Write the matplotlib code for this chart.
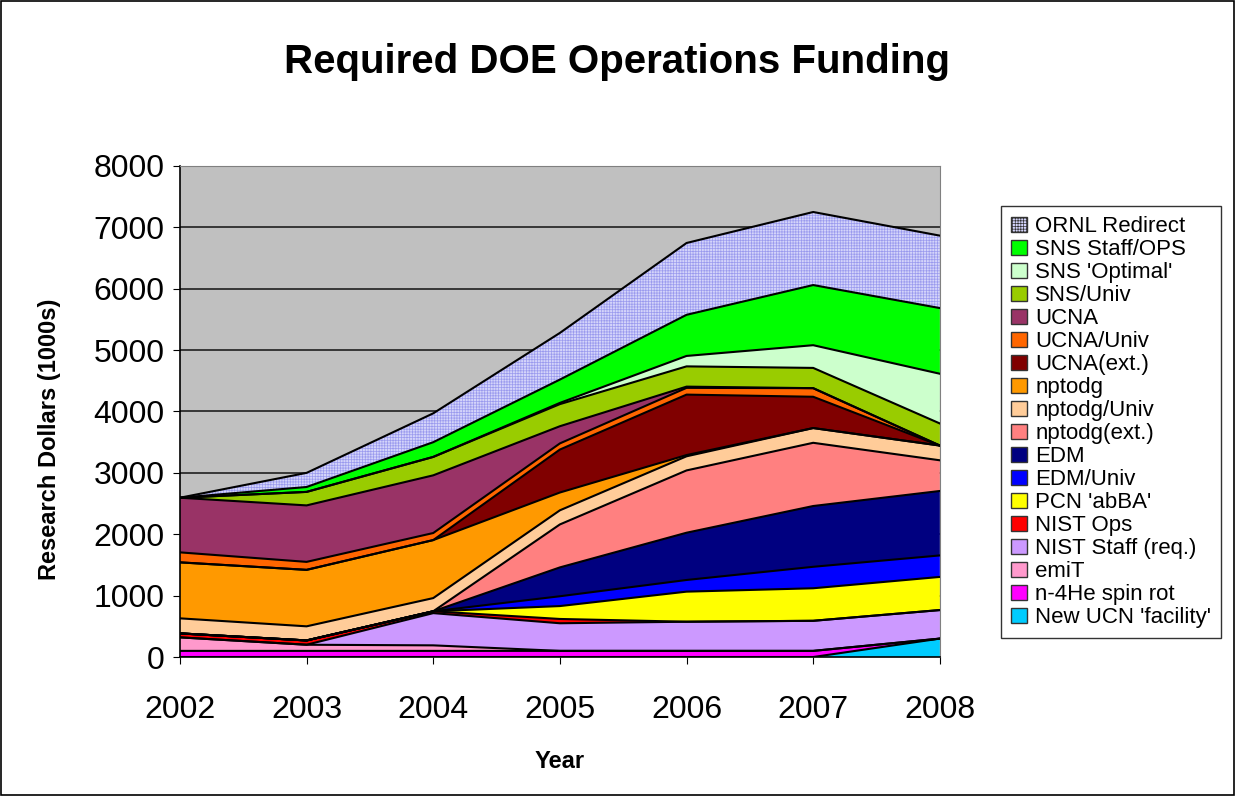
import numpy as np
import matplotlib.pyplot as plt
from matplotlib.patches import Patch, Rectangle

plt.rcParams['font.family'] = ['Liberation Sans', 'DejaVu Sans']
plt.rcParams['hatch.linewidth'] = 0.5

years = [2002, 2003, 2004, 2005, 2006, 2007, 2008]

# stack order, bottom to top
new_ucn = [0, 0, 0, 0, 0, 0, 300]
n4he = [100, 100, 100, 100, 100, 100, 0]
emit = [220, 100, 90, 0, 0, 0, 0]
nist_staff = [0, 0, 525, 450, 475, 490, 465]
nist_ops = [65, 70, 30, 70, 0, 0, 0]
pcn = [0, 0, 0, 210, 490, 530, 540]
edm_univ = [0, 0, 0, 160, 190, 350, 350]
edm = [0, 0, 0, 470, 770, 990, 1050]
nptodg_ext = [0, 0, 0, 700, 1015, 1030, 500]
nptodg_univ = [245, 230, 215, 230, 230, 240, 240]
nptodg = [912, 920, 945, 290, 20, 0, 0]
ucna_ext = [0, 0, 0, 700, 985, 510, 0]
ucna_univ = [163, 130, 115, 100, 110, 140, 0]
ucna = [890, 920, 940, 280, 20, 0, 0]
sns_univ = [0, 220, 300, 360, 330, 330, 360]
sns_opt = [0, 0, 0, 20, 170, 370, 810]
sns_staff = [0, 80, 240, 380, 670, 980, 1070]
ornl = [0, 230, 470, 760, 1170, 1190, 1180]

series = [
    ("New UCN 'facility'", new_ucn, '#00CCFF'),
    ("n-4He spin rot", n4he, '#FF00FF'),
    ("emiT", emit, '#FF99CC'),
    ("NIST Staff (req.)", nist_staff, '#CC99FF'),
    ("NIST Ops", nist_ops, '#FF0000'),
    ("PCN 'abBA'", pcn, '#FFFF00'),
    ("EDM/Univ", edm_univ, '#0000FF'),
    ("EDM", edm, '#000080'),
    ("nptodg(ext.)", nptodg_ext, '#FF8080'),
    ("nptodg/Univ", nptodg_univ, '#FFCC99'),
    ("nptodg", nptodg, '#FF9900'),
    ("UCNA(ext.)", ucna_ext, '#800000'),
    ("UCNA/Univ", ucna_univ, '#FF6600'),
    ("UCNA", ucna, '#993366'),
    ("SNS/Univ", sns_univ, '#99CC00'),
    ("SNS 'Optimal'", sns_opt, '#CCFFCC'),
    ("SNS Staff/OPS", sns_staff, '#00FF00'),
    ("ORNL Redirect", ornl, '#D4D4FA'),
]

fig = plt.figure(figsize=(12.35, 7.96), dpi=100)
ax = fig.add_axes([0.1457, 0.1746, 0.6153, 0.6169])
ax.set_facecolor('#C0C0C0')

x = np.array(years)
base = np.zeros(len(years))
for name, vals, col in series:
    top = base + np.array(vals)
    ax.fill_between(x, base, top, facecolor=col, edgecolor='none', zorder=2)
    if name == "ORNL Redirect":
        ax.fill_between(x, base, top, facecolor='none', edgecolor='#9A9AEE',
                        hatch='++++++', linewidth=0, zorder=2)
    ax.plot(x, top, color='black', linewidth=1.5, zorder=3)
    base = top

ax.set_xlim(2002, 2008)
ax.set_ylim(0, 8000)
ax.set_yticks(range(0, 8001, 1000))
ax.set_xticks(years)
ax.grid(axis='y', color='#202020', linewidth=1.2, zorder=1)
ax.set_axisbelow(True)
ax.tick_params(axis='both', labelsize=23, direction='out', length=5)
ax.tick_params(axis='y', pad=6)
ax.tick_params(axis='x', pad=22)
for s in ['top', 'right']:
    ax.spines[s].set_color('#808080')
for s in ['left', 'bottom']:
    ax.spines[s].set_color('black')
    ax.spines[s].set_linewidth(1.2)

ax.set_ylabel('Research Dollars (1000s)', fontsize=17, fontweight='bold')
ax.yaxis.set_label_coords(-0.157, 0.444)
ax.set_xlabel('Year', fontsize=17, fontweight='bold', labelpad=18)
fig.text(0.5, 0.922, 'Required DOE Operations Funding', ha='center', va='center',
         fontsize=29, fontweight='bold')

handles = []
for name, vals, col in reversed(series):
    if name == "ORNL Redirect":
        handles.append(Patch(facecolor=col, edgecolor='#333333', hatch='++++++', label=name))
    else:
        handles.append(Patch(facecolor=col, edgecolor='#333333', label=name))
leg = fig.legend(handles=handles, loc='upper left', bbox_to_anchor=(0.8105, 0.741),
                 fontsize=16, frameon=True, fancybox=False, edgecolor='black',
                 handlelength=0.7, handleheight=0.7, handletextpad=0.4,
                 labelspacing=0.09, borderpad=0.45, borderaxespad=0)
leg.get_frame().set_linewidth(1.0)

fig.patches.append(Rectangle((0.001, 0.001), 0.998, 0.998, transform=fig.transFigure,
                             fill=False, edgecolor='black', linewidth=1.2))

fig.savefig('out.png', dpi=100)
